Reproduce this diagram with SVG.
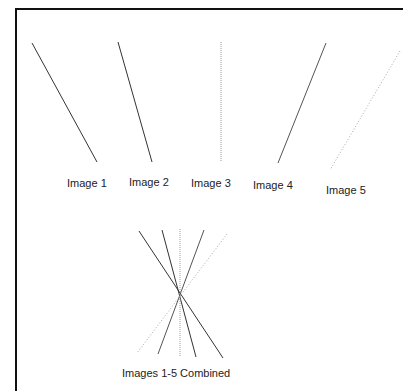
<svg xmlns="http://www.w3.org/2000/svg" width="403" height="391" viewBox="0 0 403 391">
<style>
.lbl{font-family:"Liberation Sans",Arial,sans-serif;font-size:11px;fill:#222}
.solid{stroke:#333;stroke-width:1;fill:none}
.mid{stroke:#555;stroke-width:1;fill:none}
.dot{stroke:#999;stroke-width:1;stroke-dasharray:1 1;fill:none}
.dot2{stroke:#aaa;stroke-width:1;stroke-dasharray:1 2;fill:none}
</style>
<rect width="403" height="391" fill="#fff"/>
<g id="frame">
<line x1="16" y1="9" x2="403" y2="9" stroke="#111" stroke-width="2"/>
<line x1="16" y1="8" x2="16" y2="391" stroke="#111" stroke-width="2"/>
</g>
<g id="image1">
<line class="solid" x1="32" y1="43" x2="97" y2="162"/>
<text class="lbl" x="67" y="187">Image 1</text>
</g>
<g id="image2">
<line class="solid" x1="118" y1="42" x2="152" y2="162"/>
<text class="lbl" x="129" y="186">Image 2</text>
</g>
<g id="image3">
<line class="dot" x1="221" y1="42" x2="221" y2="162"/>
<text class="lbl" x="191" y="187">Image 3</text>
</g>
<g id="image4">
<line class="mid" x1="326" y1="43" x2="278" y2="163"/>
<text class="lbl" x="253" y="189">Image 4</text>
</g>
<g id="image5">
<line class="dot2" x1="400" y1="51" x2="330" y2="170"/>
<text class="lbl" x="326" y="194">Image 5</text>
</g>
<g id="combined">
<line class="solid" x1="139" y1="231" x2="223" y2="358"/>
<line class="solid" x1="162" y1="230" x2="196" y2="357"/>
<line class="dot" x1="180" y1="229" x2="180" y2="357"/>
<line class="mid" x1="204" y1="230" x2="158" y2="354"/>
<line class="dot2" x1="227" y1="234" x2="137" y2="353"/>
<text class="lbl" x="122" y="377">Images 1-5 Combined</text>
</g>
</svg>
